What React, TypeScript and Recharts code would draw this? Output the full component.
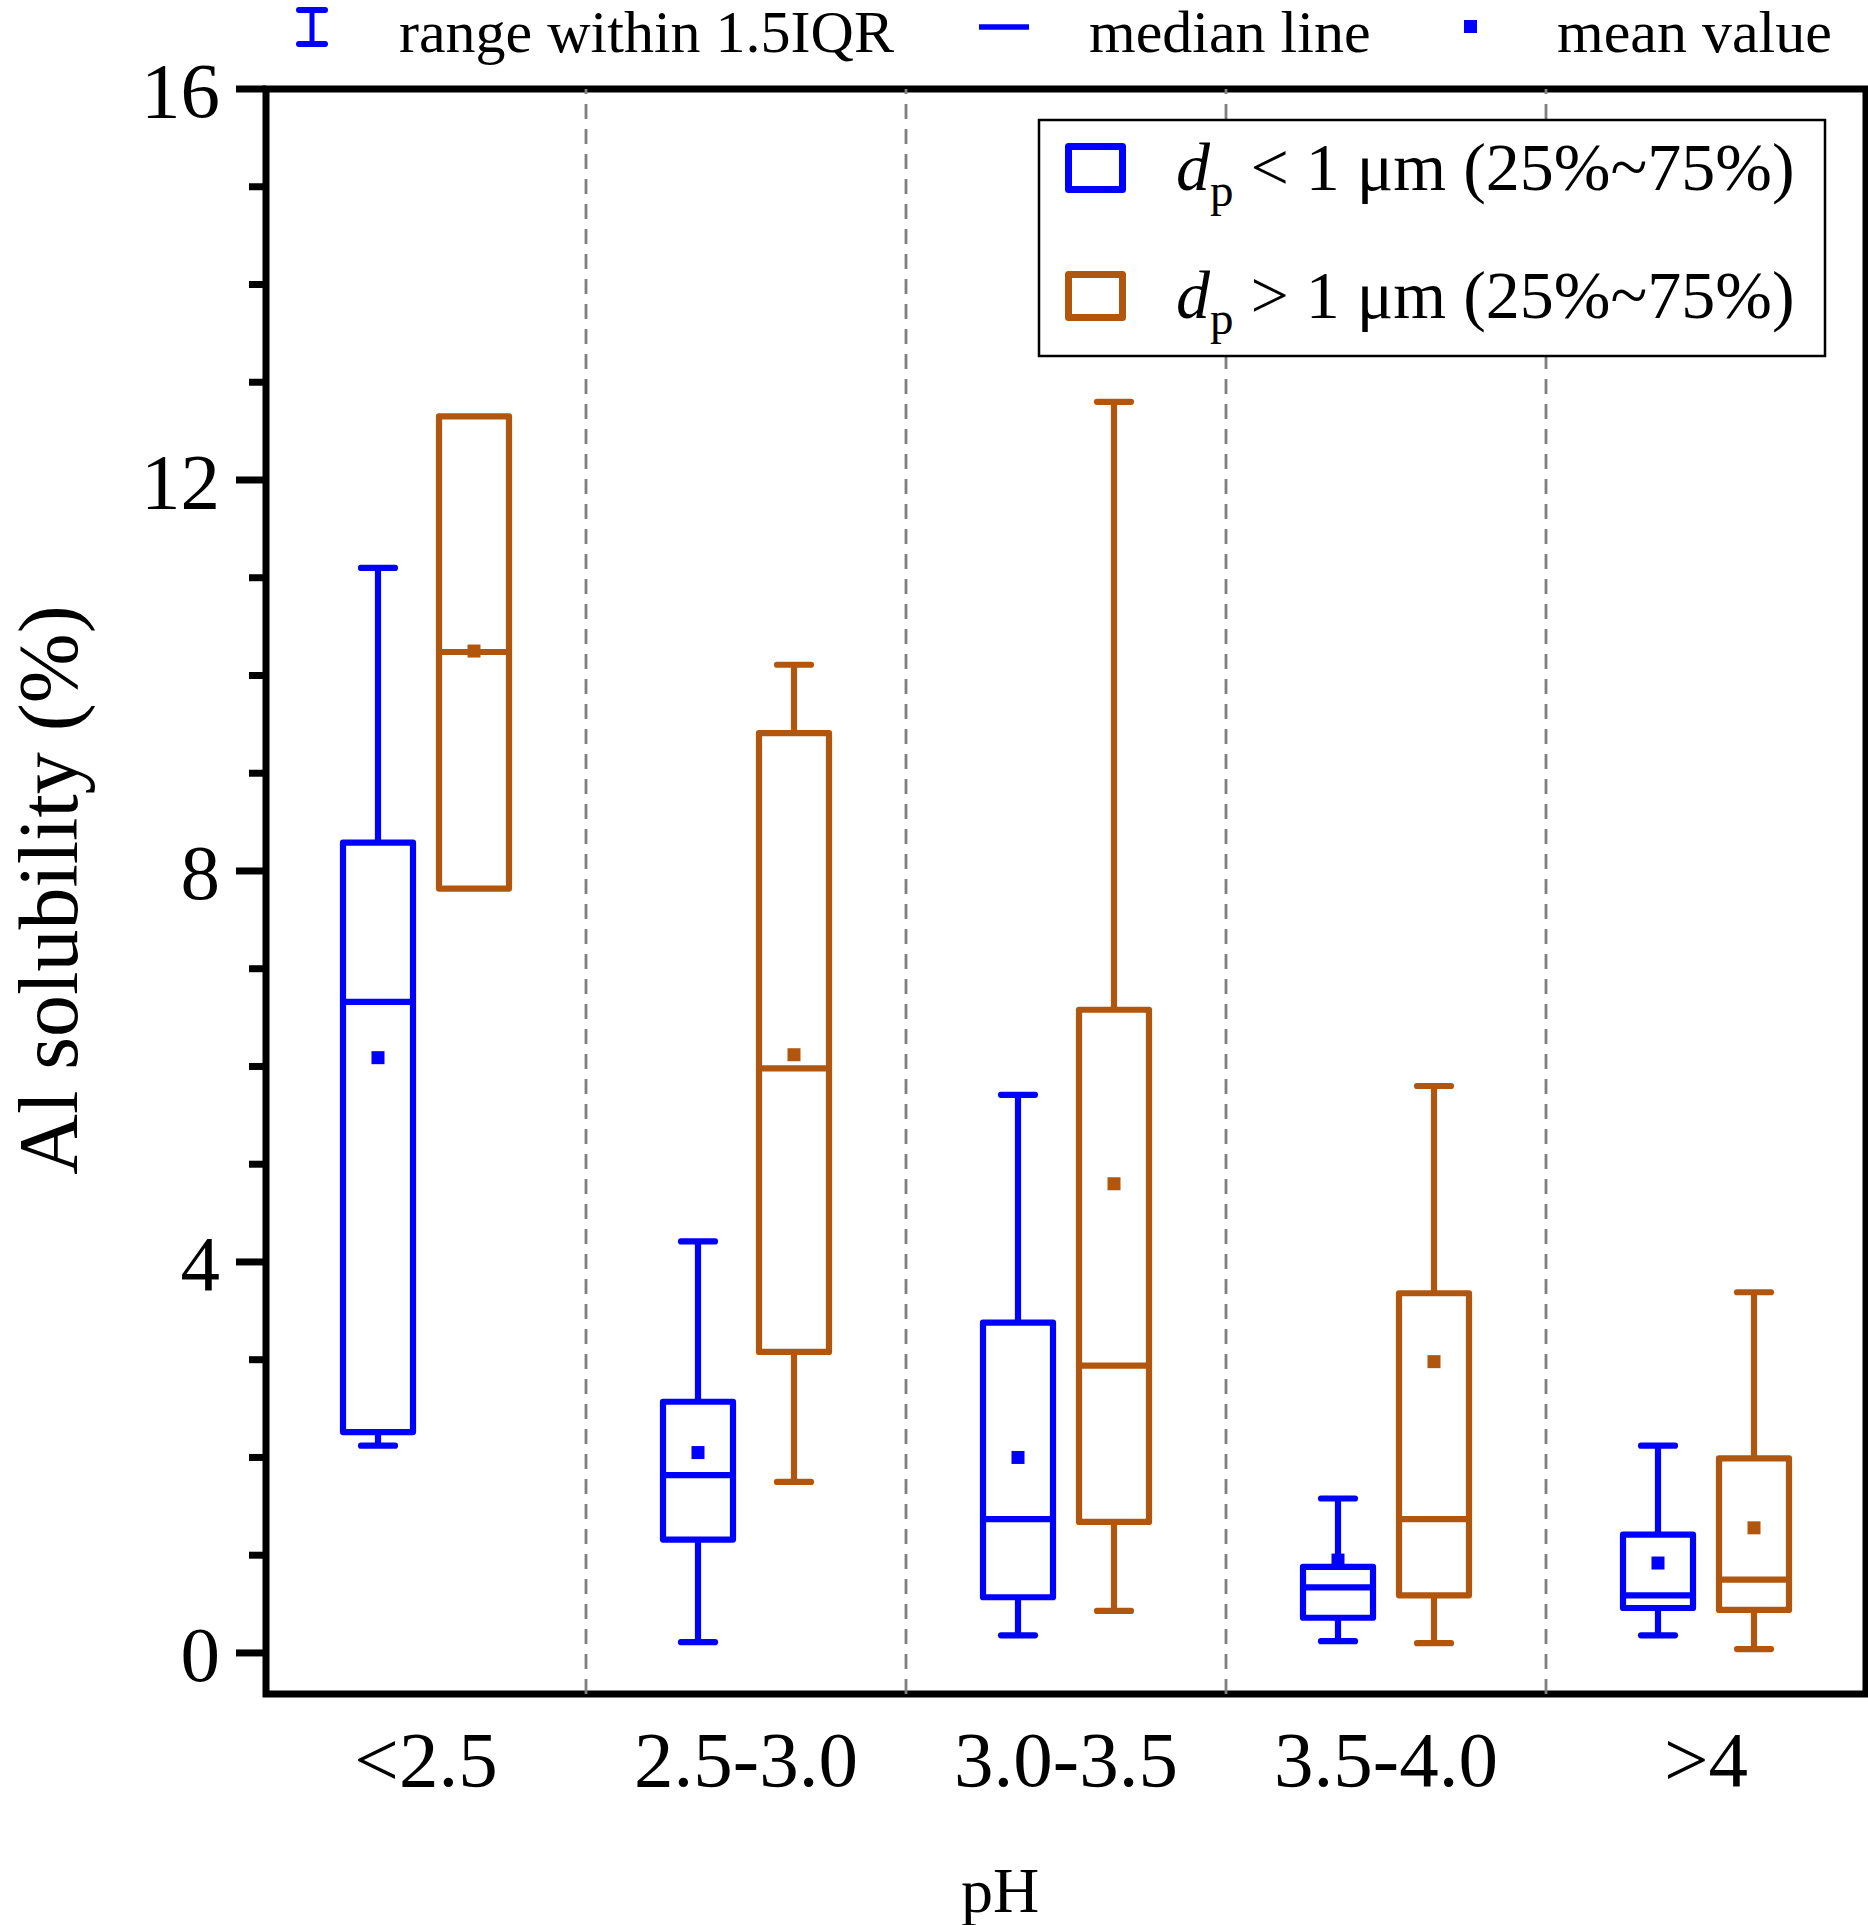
import React from 'react';
import { ComposedChart, Bar, XAxis, YAxis, ReferenceLine, ReferenceArea } from 'recharts';

const FONT = '"Liberation Serif", "Times New Roman", serif';
const BLUE = '#0000FF';
const ORANGE = '#B1560F';

const categories = ['<2.5', '2.5-3.0', '3.0-3.5', '3.5-4.0', '>4'];

// dp < 1 μm
const fineMin = [2.12, 0.11, 0.18, 0.12, 0.18];
const fineQ1 = [2.26, 1.16, 0.57, 0.36, 0.46];
const fineMedian = [6.66, 1.82, 1.37, 0.67, 0.59];
const fineQ3 = [8.29, 2.57, 3.38, 0.88, 1.21];
const fineMax = [11.1, 4.21, 5.71, 1.58, 2.12];
const fineMean = [6.09, 2.05, 2.0, 0.95, 0.92];

// dp > 1 μm
const coarseMin = [7.82, 1.75, 0.43, 0.1, 0.04];
const coarseQ1 = [7.82, 3.08, 1.34, 0.59, 0.44];
const coarseMedian = [10.24, 5.98, 2.94, 1.37, 0.75];
const coarseQ3 = [12.65, 9.41, 6.58, 3.68, 1.99];
const coarseMax = [12.65, 10.11, 12.8, 5.8, 3.69];
const coarseMean = [10.25, 6.12, 4.8, 2.98, 1.28];

const yTicks = [0, 1, 2, 3, 4, 5, 6, 7, 8, 9, 10, 11, 12, 13, 14, 15, 16];
const yMajor = [0, 4, 8, 12, 16];
const yDomain = [-0.42, 16];

const data = categories.map((cat, i) => ({
  cat,
  fineMin: fineMin[i],
  fineQ1: fineQ1[i],
  fineMedian: fineMedian[i],
  fineQ3: fineQ3[i],
  fineMax: fineMax[i],
  fineMean: fineMean[i],
  coarseMin: coarseMin[i],
  coarseQ1: coarseQ1[i],
  coarseMedian: coarseMedian[i],
  coarseQ3: coarseQ3[i],
  coarseMax: coarseMax[i],
  coarseMean: coarseMean[i],
}));

const SW = 6.2;

function makeBoxShape(prefix: string, color: string) {
  return (props: any) => {
    const { x, y, width, height, payload } = props;
    if (x == null || y == null || !payload) return <g />;
    const mn = payload[prefix + 'Min'];
    const mx = payload[prefix + 'Max'];
    const q1 = payload[prefix + 'Q1'];
    const q3 = payload[prefix + 'Q3'];
    const med = payload[prefix + 'Median'];
    const mean = payload[prefix + 'Mean'];
    const top = Math.min(y, y + height);
    const bottom = Math.max(y, y + height);
    const py = (v: number) => bottom - ((v - mn) / (mx - mn)) * (bottom - top);
    const cx = x + width / 2;
    const cap = 17;
    const ms = 13;
    return (
      <g>
        {mx > q3 && (
          <>
            <line x1={cx} x2={cx} y1={py(q3)} y2={py(mx)} stroke={color} strokeWidth={SW} />
            <line x1={cx - cap} x2={cx + cap} y1={py(mx)} y2={py(mx)} stroke={color} strokeWidth={SW} strokeLinecap="round" />
          </>
        )}
        {mn < q1 && (
          <>
            <line x1={cx} x2={cx} y1={py(q1)} y2={py(mn)} stroke={color} strokeWidth={SW} />
            <line x1={cx - cap} x2={cx + cap} y1={py(mn)} y2={py(mn)} stroke={color} strokeWidth={SW} strokeLinecap="round" />
          </>
        )}
        <rect
          x={x}
          y={py(q3)}
          width={width}
          height={py(q1) - py(q3)}
          fill="none"
          stroke={color}
          strokeWidth={SW}
          strokeLinejoin="round"
        />
        <line x1={x} x2={x + width} y1={py(med)} y2={py(med)} stroke={color} strokeWidth={SW} />
        <rect x={cx - ms / 2} y={py(mean) - ms / 2} width={ms} height={ms} fill={color} />
      </g>
    );
  };
}

const fineShape = makeBoxShape('fine', BLUE);
const coarseShape = makeBoxShape('coarse', ORANGE);

const XTick = (props: any) => {
  const { x, y, payload } = props;
  return (
    <text x={x} y={y + 92} textAnchor="middle" fontFamily={FONT} fontSize={79} fill="#000">
      {payload.value}
    </text>
  );
};

const YTick = (props: any) => {
  const { x, y, payload } = props;
  const major = yMajor.includes(payload.value);
  return (
    <g>
      <line x1={x - (major ? 30 : 17)} x2={x} y1={y} y2={y} stroke="#000" strokeWidth={7} />
      {major && (
        <text x={x - 46} y={y} dy="0.35em" textAnchor="end" fontFamily={FONT} fontSize={79} fill="#000">
          {payload.value}
        </text>
      )}
    </g>
  );
};

export default function App() {
  return (
    <div style={{ position: 'absolute', left: 0, top: 0, width: 1868, height: 1925, background: '#fff' }}>
      <ComposedChart
        width={1868}
        height={1925}
        data={data}
        margin={{ top: 89, right: 2, bottom: 81, left: 166 }}
        barGap={26}
        barCategoryGap={0}
      >
        <XAxis
          dataKey="cat"
          type="category"
          height={150}
          axisLine={false}
          tickLine={false}
          tickSize={0}
          tickMargin={0}
          interval={0}
          tick={(p: any) => <XTick {...p} />}
        />
        <YAxis
          type="number"
          domain={yDomain}
          allowDataOverflow
          ticks={yTicks}
          interval={0}
          width={100}
          axisLine={false}
          tickLine={false}
          tickSize={0}
          tickMargin={0}
          tick={(p: any) => <YTick {...p} />}
        />
        {categories.slice(0, 4).map((c) => (
          <ReferenceLine
            key={c}
            x={c}
            position="end"
            stroke="#7f7f7f"
            strokeWidth={2.8}
            strokeDasharray="15 10"
            ifOverflow="visible"
          />
        ))}
        <Bar
          dataKey={(d: any) => [d.fineMin, d.fineMax]}
          barSize={70}
          shape={fineShape}
          isAnimationActive={false}
          legendType="none"
        />
        <Bar
          dataKey={(d: any) => [d.coarseMin, d.coarseMax]}
          barSize={70}
          shape={coarseShape}
          isAnimationActive={false}
          legendType="none"
        />
        <ReferenceArea
          x1={categories[0]}
          x2={categories[categories.length - 1]}
          y1={yDomain[0]}
          y2={yDomain[1]}
          fill="none"
          fillOpacity={0}
          stroke="#000"
          strokeWidth={7}
          ifOverflow="visible"
        />
      </ComposedChart>
      <svg
        width={1868}
        height={1925}
        style={{ position: 'absolute', left: 0, top: 0, pointerEvents: 'none' }}
      >
        {/* top legend */}
        <g fontFamily={FONT} fontSize={60} fill="#000">
          <line x1={312} x2={312} y1={10} y2={44} stroke={BLUE} strokeWidth={5} />
          <line x1={299} x2={325} y1={10} y2={10} stroke={BLUE} strokeWidth={6} strokeLinecap="round" />
          <line x1={299} x2={325} y1={44} y2={44} stroke={BLUE} strokeWidth={6} strokeLinecap="round" />
          <text x={399} y={52}>range within 1.5IQR</text>
          <line x1={979} x2={1029} y1={27} y2={27} stroke={BLUE} strokeWidth={5.5} />
          <text x={1089} y={52}>median line</text>
          <rect x={1464} y={20} width={13} height={13} fill={BLUE} />
          <text x={1557} y={52}>mean value</text>
        </g>
        {/* box legend */}
        <rect x={1039} y={120} width={786} height={236} fill="#fff" stroke="#000" strokeWidth={2.5} />
        <rect x={1068.5} y={146.5} width={54} height={43} fill="none" stroke={BLUE} strokeWidth={7} strokeLinejoin="round" />
        <rect x={1068.5} y={274.5} width={54} height={43} fill="none" stroke={ORANGE} strokeWidth={7} strokeLinejoin="round" />
        <text x={1176} y={190} fontFamily={FONT} fontSize={68} fill="#000">
          <tspan fontStyle="italic">d</tspan>
          <tspan fontSize={47} dy={16}>p</tspan>
          <tspan dy={-16}> &lt; 1 μm (25%~75%)</tspan>
        </text>
        <text x={1176} y={318} fontFamily={FONT} fontSize={68} fill="#000">
          <tspan fontStyle="italic">d</tspan>
          <tspan fontSize={47} dy={16}>p</tspan>
          <tspan dy={-16}> &gt; 1 μm (25%~75%)</tspan>
        </text>
        {/* axis titles */}
        <text
          x={77}
          y={890}
          transform="rotate(-90 77 890)"
          textAnchor="middle"
          fontFamily={FONT}
          fontSize={84}
          fill="#000"
        >
          Al solubility (%)
        </text>
        <text x={1000} y={1912} textAnchor="middle" fontFamily={FONT} fontSize={64} fill="#000">
          pH
        </text>
      </svg>
    </div>
  );
}
